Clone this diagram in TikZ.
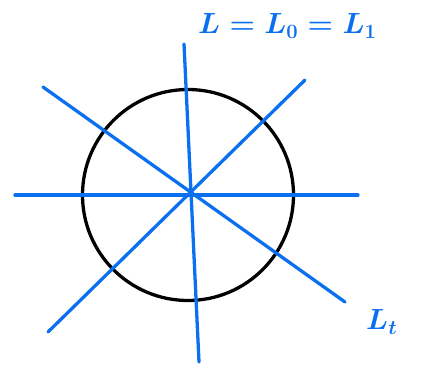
\documentclass[tikz,border=0pt]{standalone}
\usepackage{tikz}
\definecolor{cLine}{RGB}{10,112,240}

\begin{document}
\begin{tikzpicture}[x=0.03cm,y=-0.03cm]
\useasboundingbox (0,0) rectangle (432,367);
\tikzset{lline/.style={cLine,line width=2.8pt,line cap=round},
  lab/.style={cLine,font=\fontsize{26}{28}\selectfont\boldmath,inner sep=0pt}}
\coordinate (o) at (188,195);
\draw[black,line width=2.8pt] (o) circle (105.5);
\coordinate (v1) at (184,44);
\coordinate (v2) at (199,362);
\coordinate (h1) at (15,195);
\coordinate (h2) at (358,195);
\coordinate (d1) at (43,87);
\coordinate (d2) at (345,302);
\coordinate (e1) at (48,332);
\coordinate (e2) at (305,80);
\draw[lline] (v1) -- (v2);
\draw[lline] (h1) -- (h2);
\draw[lline] (d1) -- (d2);
\draw[lline] (e1) -- (e2);
\node[lab,anchor=west] (lzero) at (198,26) {$L=L_0=L_1$};
\node[lab,anchor=west] (lt) at (366,322) {$L_t$};
\end{tikzpicture}
\end{document}
